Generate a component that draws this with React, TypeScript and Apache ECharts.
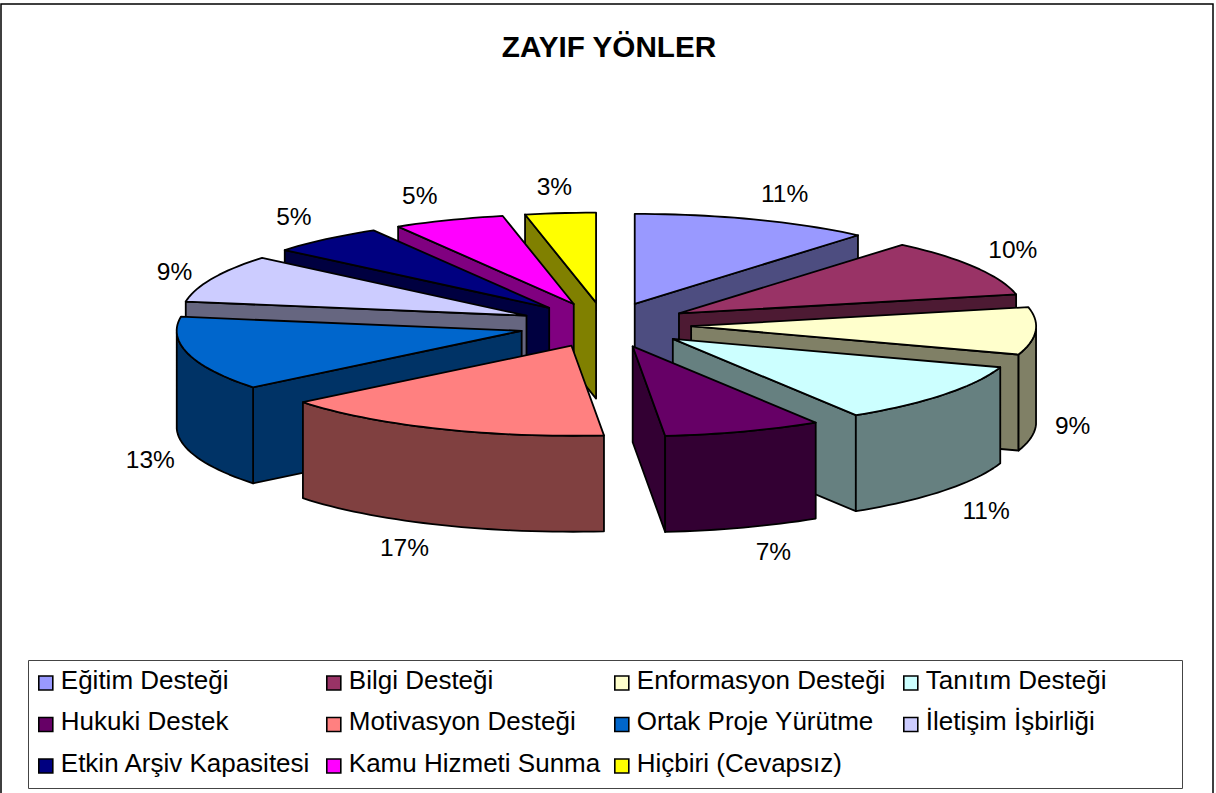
import React, { useEffect, useRef } from "react";
import * as echarts from "echarts";

const categories = [
  "Eğitim Desteği", "Bilgi Desteği", "Enformasyon Desteği", "Tanıtım Desteği",
  "Hukuki Destek", "Motivasyon Desteği", "Ortak Proje Yürütme", "İletişim İşbirliği",
  "Etkin Arşiv Kapasitesi", "Kamu Hizmeti Sunma", "Hiçbiri (Cevapsız)",
];
// Shares as measured from the slice edges in the picture.
const values = [11.2, 10.4, 8.5, 11.0, 7.4, 15.7, 13.3, 8.6, 5.4, 5.2, 3.3];
// Percentages as printed beside the slices.
const percentLabels = ["11%", "10%", "9%", "11%", "7%", "17%", "13%", "9%", "5%", "5%", "3%"];
const topColors = ["#9999FF", "#993366", "#FFFFCC", "#CCFFFF", "#660066", "#FF8080", "#0066CC", "#CCCCFF", "#000080", "#FF00FF", "#FFFF00"];
const sideColors = ["#4D4D80", "#4D1A33", "#808066", "#668080", "#330033", "#804040", "#003366", "#666680", "#000040", "#800080", "#808000"];
const labelNudge: [number, number][] = [
  [31, -26], [38, -18], [37, 94], [42, 116], [30, 120], [-33, 119],
  [-38, 105], [-38, -7], [-32, -23], [-29, -25], [-6, -27],
];
const legendColumns = [
  { left: 38, names: [0, 4, 8] },
  { left: 326, names: [1, 5, 9] },
  { left: 614, names: [2, 6, 10] },
  { left: 903, names: [3, 7] },
];

const CX = 605, CY = 325, RX = 345, RY = 90, DEPTH = 96, EXPLODE = 0.25;
const FONT = "'Liberation Sans', Arial, sans-serif";
const total = values.reduce((a, b) => a + b, 0);
const spans = values.map((_, i) => {
  const before = values.slice(0, i).reduce((a, b) => a + b, 0);
  return [(before / total) * Math.PI * 2, ((before + values[i]) / total) * Math.PI * 2];
});
const dir = (t: number): [number, number] => [RX * Math.sin(t), -RY * Math.cos(t)];
const mids = spans.map(([a, b]) => (a + b) / 2);
const order = mids.map((m, i) => ({ m, i })).sort((p, q) => Math.cos(q.m) - Math.cos(p.m)).map((o) => o.i);

function sliceRenderer(i: number) {
  return () => {
    const [t1, t2] = spans[i];
    const md = dir(mids[i]);
    const ax = CX + EXPLODE * md[0], ay = CY + EXPLODE * md[1];
    const rim = (t: number): [number, number] => { const d = dir(t); return [ax + d[0], ay + d[1]]; };
    const steps = Math.max(4, Math.ceil((t2 - t1) / 0.03));
    const angles: number[] = [];
    for (let k = 0; k <= steps; k++) angles.push(t1 + ((t2 - t1) * k) / steps);
    const arc = angles.map(rim);
    const down = (p: [number, number]): [number, number] => [p[0], p[1] + DEPTH];
    const sideStyle = { fill: sideColors[i], stroke: "#000", lineWidth: 1.8, lineJoin: "round" };
    const children: any[] = [];
    const quad = (pts: [number, number][]) =>
      children.push({ type: "polygon", shape: { points: pts }, style: sideStyle });
    const p1 = arc[0], p2 = arc[arc.length - 1], apex: [number, number] = [ax, ay];
    if (Math.sin(t1) < 0) quad([apex, p1, down(p1), down(apex)]);
    if (Math.sin(t2) > 0) quad([apex, p2, down(p2), down(apex)]);
    const front = arc.filter((_, k) => Math.cos(angles[k]) < 0);
    if (front.length > 1) quad([...front, ...front.slice().reverse().map(down)]);
    children.push({
      type: "polygon",
      shape: { points: [apex, ...arc] },
      style: { fill: topColors[i], stroke: "#000", lineWidth: 1.8, lineJoin: "round" },
    });
    const rm = rim(mids[i]);
    children.push({
      type: "text",
      style: {
        text: percentLabels[i],
        x: rm[0] + labelNudge[i][0],
        y: rm[1] + labelNudge[i][1],
        align: "center",
        verticalAlign: "middle",
        fill: "#000",
        fontSize: 24.5,
        fontFamily: FONT,
      },
    });
    return { type: "group", children };
  };
}

export default function App() {
  const ref = useRef<HTMLDivElement>(null);
  useEffect(() => {
    const chart = echarts.init(ref.current!, null, { renderer: "svg" });
    chart.setOption({
      animation: false,
      backgroundColor: "#fff",
      title: {
        text: "ZAYIF YÖNLER",
        left: 604,
        top: 26,
        textAlign: "center",
        textStyle: { fontFamily: FONT, fontSize: 29.7, fontWeight: "bold", color: "#000" },
      },
      legend: legendColumns.map((c) => ({
        orient: "vertical",
        left: c.left,
        top: 666.5,
        padding: 0,
        itemWidth: 14,
        itemHeight: 14,
        itemGap: 8.5,
        selectedMode: false,
        icon: "rect",
        itemStyle: { borderColor: "#000", borderWidth: 1.6 },
        formatter: "{t|{name}}",
        textStyle: {
          fontFamily: FONT,
          fontSize: 26,
          color: "#000",
          rich: { t: { fontFamily: FONT, fontSize: 26, color: "#000", lineHeight: 40, padding: [0, 0, 7, 3] } },
        },
        data: c.names.map((n) => categories[n]),
      })),
      graphic: [
        { type: "rect", z: -1, shape: { x: 1, y: 4, width: 1212, height: 800 }, style: { fill: "#fff", stroke: "#000", lineWidth: 1.5 } },
        { type: "rect", z: -1, shape: { x: 28.5, y: 660.5, width: 1154, height: 128 }, style: { fill: "#fff", stroke: "#444", lineWidth: 1 } },
      ],
      series: categories.map((name, i) => ({
        type: "custom",
        name,
        coordinateSystem: "none",
        z: 2 + order.indexOf(i),
        silent: true,
        itemStyle: { color: topColors[i] },
        data: [values[i]],
        renderItem: sliceRenderer(i),
      })),
    });
    return () => chart.dispose();
  }, []);
  return <div ref={ref} style={{ position: "absolute", left: 0, top: 0, width: 1216, height: 793 }} />;
}
